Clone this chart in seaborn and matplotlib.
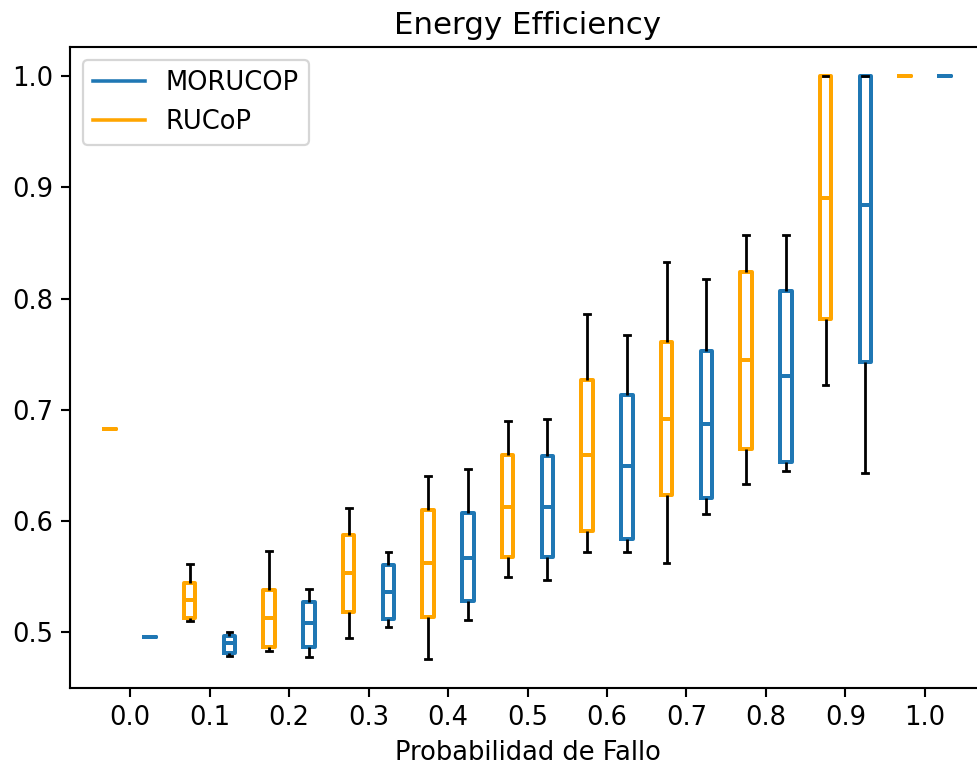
import matplotlib
matplotlib.use("Agg")
import matplotlib.pyplot as plt
from matplotlib.lines import Line2D
import numpy as np
import pandas as pd
import seaborn as sns

# Failure probabilities (x categories)
prob_labels = ["0.0", "0.1", "0.2", "0.3", "0.4", "0.5", "0.6", "0.7", "0.8", "0.9", "1.0"]

# Five-number summaries of energy efficiency per failure probability
rucop_min = [0.683, 0.510, 0.483, 0.495, 0.476, 0.550, 0.572, 0.562, 0.633, 0.722, 1.000]
rucop_q1  = [0.683, 0.513, 0.487, 0.518, 0.514, 0.568, 0.591, 0.623, 0.665, 0.782, 1.000]
rucop_med = [0.683, 0.529, 0.513, 0.553, 0.562, 0.613, 0.659, 0.692, 0.745, 0.890, 1.000]
rucop_q3  = [0.683, 0.544, 0.538, 0.587, 0.610, 0.659, 0.727, 0.761, 0.824, 1.000, 1.000]
rucop_max = [0.683, 0.561, 0.573, 0.612, 0.640, 0.690, 0.786, 0.833, 0.857, 1.000, 1.000]

morucop_min = [0.496, 0.479, 0.478, 0.505, 0.511, 0.547, 0.572, 0.606, 0.645, 0.643, 1.000]
morucop_q1  = [0.496, 0.481, 0.487, 0.512, 0.528, 0.568, 0.584, 0.621, 0.653, 0.743, 1.000]
morucop_med = [0.496, 0.490, 0.508, 0.536, 0.567, 0.613, 0.649, 0.687, 0.730, 0.884, 1.000]
morucop_q3  = [0.496, 0.497, 0.527, 0.560, 0.607, 0.658, 0.713, 0.753, 0.807, 1.000, 1.000]
morucop_max = [0.496, 0.500, 0.539, 0.572, 0.647, 0.692, 0.767, 0.818, 0.857, 1.000, 1.000]

algorithms = ["RUCoP", "MORUCOP"]
colors = {"RUCoP": "#FFA500", "MORUCOP": "#1f77b4"}

summaries = {
    "RUCoP": [rucop_min, rucop_q1, rucop_med, rucop_q3, rucop_max],
    "MORUCOP": [morucop_min, morucop_q1, morucop_med, morucop_q3, morucop_max],
}

# Long-form table: five samples per box reproduce min / quartiles / max exactly
rows = []
for alg in algorithms:
    for i, p in enumerate(prob_labels):
        for stat in summaries[alg]:
            rows.append({"prob": p, "alg": alg, "value": stat[i]})
df = pd.DataFrame(rows)

plt.rcParams["font.size"] = 11.6
plt.rcParams["axes.linewidth"] = 0.95
plt.rcParams["xtick.major.width"] = 0.95
plt.rcParams["ytick.major.width"] = 0.95
plt.rcParams["xtick.major.size"] = 4.0
plt.rcParams["ytick.major.size"] = 4.0

dpi = 160
fig = plt.figure(figsize=(977 / dpi, 766 / dpi), dpi=dpi)
ax = fig.add_axes([70 / 977, 78 / 766, 915 / 977, 641 / 766])

sns.boxplot(
    data=df, x="prob", y="value", hue="alg",
    order=prob_labels, hue_order=algorithms, palette=colors,
    fill=False, width=1.0, gap=0.71, dodge=True, whis=(0, 100),
    showfliers=False, linewidth=1.8,
    whiskerprops={"color": "black", "linewidth": 1.25},
    capprops={"color": "black", "linewidth": 1.25},
    legend=False, ax=ax,
)

ax.set_xlim(-0.755, 10.755)
ax.set_ylim(0.4498, 1.0262)
ax.set_yticks([0.5, 0.6, 0.7, 0.8, 0.9, 1.0])
ax.set_title("Energy Efficiency", fontsize=13.9)
ax.set_xlabel("Probabilidad de Fallo")
ax.set_ylabel("")

handles = [
    Line2D([0], [0], color=colors["MORUCOP"], lw=1.6, label="MORUCOP"),
    Line2D([0], [0], color=colors["RUCoP"], lw=1.6, label="RUCoP"),
]
ax.legend(handles=handles, loc="upper left")

fig.savefig("out.png", dpi=dpi)
